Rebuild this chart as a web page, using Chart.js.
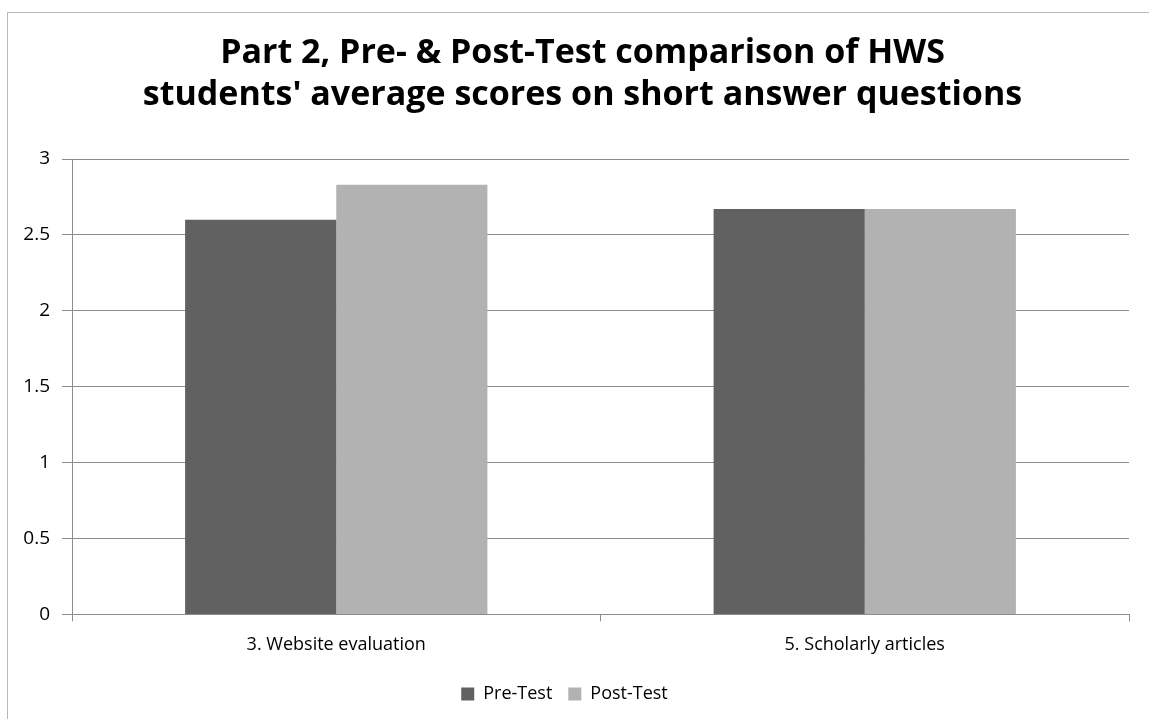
<!DOCTYPE html>
<html>
<head>
<meta charset="utf-8">
<script src="https://cdn.jsdelivr.net/npm/chart.js@4.4.1/dist/chart.umd.min.js"></script>
<style>
    html, body { margin: 0; padding: 0; background: #fff; }
    #wrap { position: relative; width: 1149px; height: 719px; }
    #frame {
        position: absolute; left: 7px; top: 12px; right: -2px; bottom: -2px;
        border-left: 1px solid #b8b8b8; border-top: 1px solid #b8b8b8;
        pointer-events: none;
    }
    canvas { position: absolute; left: 0; top: 0; }
</style>
</head>
<body>
<div id="wrap">
    <canvas id="chart" width="1149" height="719"></canvas>
    <div id="frame"></div>
</div>
<script>
// ─── Данные ─────────────────────────────────────────────────────────────────

const titleLines = ["Part 2, Pre- & Post-Test comparison of HWS", "students' average scores on short answer questions"];
const categories = ["3. Website evaluation", "5. Scholarly articles"];
const preTest = [2.6, 2.67];
const postTest = [2.83, 2.67];
const yTicks = [0, 0.5, 1, 1.5, 2, 2.5, 3];

const FONT = "'Open Sans', Lato, sans-serif";
const GRID = "#8c8c8c";

// Заголовок рисуем сами: в оригинале он центрирован по всей рамке, а не по области графика
const titlePlugin = {
    id: "bigTitle",
    afterDraw(chart) {
        const ctx = chart.ctx;
        ctx.save();
        ctx.fillStyle = "#000";
        ctx.font = `bold 34px ${FONT}`;
        ctx.textAlign = "center";
        ctx.textBaseline = "alphabetic";
        const cx = chart.width / 2 + 8;
        titleLines.forEach((line, i) => ctx.fillText(line, cx, 63 + i * 42));
        ctx.restore();
    },
};

// ─── График ─────────────────────────────────────────────────────────────────

new Chart(document.getElementById("chart"), {
    type: "bar",
    data: {
        labels: categories,
        datasets: [
            {label: "Pre-Test", data: preTest, backgroundColor: "#616161"},
            {label: "Post-Test", data: postTest, backgroundColor: "#b2b2b2"},
        ],
    },
    options: {
        responsive: false,
        animation: false,
        devicePixelRatio: 1,
        categoryPercentage: 0.572,
        barPercentage: 1,
        layout: {padding: {left: 0, right: 20, top: 159, bottom: 6}},
        scales: {
            x: {
                grid: {display: true, drawOnChartArea: false, drawTicks: true, tickLength: 7, color: GRID, offset: true},
                border: {color: GRID},
                ticks: {color: "#000", font: {family: FONT, size: 18}, padding: 13},
            },
            y: {
                min: 0,
                max: 3,
                afterBuildTicks: (scale) => { scale.ticks = yTicks.map((v) => ({value: v})); },
                afterFit: (scale) => { scale.width = 72; },
                grid: {color: GRID, tickLength: 10},
                border: {color: GRID},
                ticks: {color: "#000", font: {family: FONT, size: 19}, padding: 12, callback: (v) => String(v)},
            },
        },
        plugins: {
            title: {display: false},
            legend: {
                position: "bottom",
                labels: {
                    color: "#000",
                    font: {family: FONT, size: 18},
                    boxWidth: 13,
                    boxHeight: 13,
                    padding: 16,
                },
            },
            tooltip: {enabled: false},
        },
    },
    plugins: [titlePlugin],
});
</script>
</body>
</html>
